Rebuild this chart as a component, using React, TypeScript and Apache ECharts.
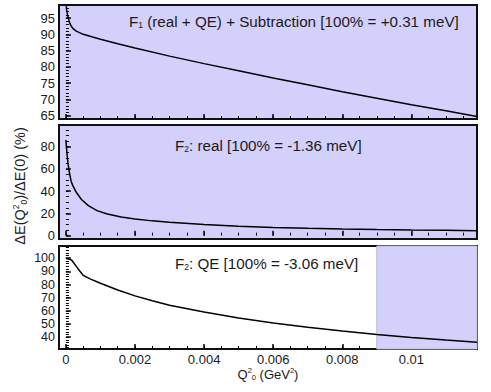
import React, { useEffect, useRef } from 'react';
import * as echarts from 'echarts';

// Q^2_0 (GeV^2) and ratio (%) for each panel
const qF1 = [0, 0.00002, 0.00005, 0.0001, 0.00015, 0.0002, 0.0003, 0.0005, 0.0007, 0.001, 0.0015, 0.002, 0.003, 0.004, 0.005, 0.006, 0.007, 0.008, 0.009, 0.01, 0.011, 0.0119];
const vF1 = [100, 97.5, 95.8, 93.8, 92.6, 91.8, 91.0, 90.0, 89.4, 88.5, 87.1, 85.8, 83.3, 81.0, 78.8, 76.6, 74.5, 72.4, 70.4, 68.4, 66.5, 64.8];

const qF2 = [0, 0.00003, 0.00006, 0.0001, 0.00015, 0.0002, 0.0003, 0.00045, 0.00065, 0.0009, 0.0012, 0.0016, 0.002, 0.0025, 0.003, 0.004, 0.005, 0.006, 0.007, 0.008, 0.009, 0.01, 0.011, 0.0119];
const vF2 = [86, 74, 65, 57, 49, 45, 39, 32.5, 27, 22.5, 19.5, 16.8, 15, 13.3, 12, 10, 8.4, 7.4, 6.6, 6, 5.5, 5.1, 4.8, 4.5];

const qF3 = [0, 0.0001, 0.00017, 0.0003, 0.0004, 0.0005, 0.0007, 0.001, 0.0015, 0.002, 0.0025, 0.003, 0.004, 0.005, 0.006, 0.007, 0.008, 0.009, 0.01, 0.011, 0.0119];
const vF3 = [100, 99.3, 98.5, 93.8, 90.3, 87, 84.3, 81, 75.8, 71.4, 67.7, 64.3, 59.2, 54.6, 50.8, 47.5, 44.6, 42.1, 39.8, 37.8, 36.2];

const shadeF3 = [0.009, 0.0119];

const xTicks = [0, 0.002, 0.004, 0.006, 0.008, 0.01];
const yTicks1 = [65, 70, 75, 80, 85, 90, 95];
const yTicks2 = [0, 20, 40, 60, 80];
const yTicks3 = [40, 50, 60, 70, 80, 90, 100];

const xRange = [-0.0002, 0.0119];
const yRange1 = [64, 99];
const yRange2 = [-3, 99.5];
const yRange3 = [31, 109.3];

const labels = [
  '{m|F}{s|1}{m| (real + QE) + Subtraction [100% = +0.31 meV]}',
  '{m|F}{s|2}{m|: real [100% = -1.36 meV]}',
  '{m|F}{s|2}{m|: QE [100% = -3.06 meV]}',
];
const yTitle = '{m|ΔE(Q}{p|2}{s|0}{m|)/ΔE(0) (%)}';
const xTitle = '{m|Q}{p|2}{s|0}{m| (GeV}{p|2}{m|)}';

function steps(a: number, b: number, d: number) {
  const out: number[] = [];
  for (let v = a; v <= b + d * 1e-6; v += d) out.push(Math.round(v / d) * d);
  return out;
}

const FONT = '"Liberation Sans", Arial, Helvetica, sans-serif';
const SHADE = '#d4d0fc';
const TXT = '#1a1a1a';

export default function App() {
  const ref = useRef<HTMLDivElement>(null);
  useEffect(() => {
    if (!ref.current) return;
    const chart = echarts.init(ref.current, undefined, { renderer: 'svg' });
    const grids = [
      { top: 5, height: 114 },
      { top: 125, height: 114 },
      { top: 246, height: 103 },
    ];
    const yRanges = [yRange1, yRange2, yRange3];
    const yMaj = [yTicks1, yTicks2, yTicks3];
    const yMin = [steps(64, 99, 1), steps(0, 95, 5), steps(32, 108, 2)];
    const yFont = [13, 13, 12.5];
    const xMinor = steps(0, 0.0115, 0.0005);

    const xAxis: any[] = [];
    const yAxis: any[] = [];
    grids.forEach((_, i) => {
      xAxis.push({
        type: 'value', gridIndex: i, position: 'bottom', min: xRange[0], max: xRange[1],
        axisLine: { show: false }, splitLine: { show: false },
        axisTick: { show: true, inside: true, length: 5, lineStyle: { color: '#000', width: 1.5 }, customValues: xTicks },
        axisLabel: { show: i === 2, customValues: xTicks, color: TXT, fontSize: 13, fontFamily: FONT, margin: 4 },
      });
      xAxis.push({
        type: 'value', gridIndex: i, position: 'bottom', min: xRange[0], max: xRange[1],
        axisLine: { show: false }, splitLine: { show: false },
        axisTick: { show: true, inside: true, length: 3, lineStyle: { color: '#000', width: 1 }, customValues: xMinor },
        axisLabel: { show: false },
      });
      yAxis.push({
        type: 'value', gridIndex: i, position: 'left', min: yRanges[i][0], max: yRanges[i][1],
        axisLine: { show: false }, splitLine: { show: false },
        axisTick: { show: true, inside: true, length: 5, lineStyle: { color: '#000', width: 1.5 }, customValues: yMaj[i] },
        axisLabel: { show: true, customValues: yMaj[i], color: TXT, fontSize: yFont[i], lineHeight: 12, fontFamily: FONT, margin: 4 },
      });
      yAxis.push({
        type: 'value', gridIndex: i, position: 'left', min: yRanges[i][0], max: yRanges[i][1],
        axisLine: { show: false }, splitLine: { show: false },
        axisTick: { show: true, inside: true, length: 3, lineStyle: { color: '#000', width: 1 }, customValues: yMin[i] },
        axisLabel: { show: false },
      });
    });

    const mk = (q: number[], v: number[]) => q.map((x, k) => [x, v[k]]);
    const lineBase = {
      type: 'line', showSymbol: false, symbol: 'none', smooth: false,
      lineStyle: { color: '#000', width: 1.5 }, clip: true, z: 3,
    };

    const rich = {
      m: { fontSize: 15.2, fontFamily: FONT, fill: TXT, lineHeight: 17 },
      s: { fontSize: 8.5, fontFamily: FONT, fill: TXT, lineHeight: 17, verticalAlign: 'bottom' },
      p: { fontSize: 8.5, fontFamily: FONT, fill: TXT, lineHeight: 17, verticalAlign: 'top' },
    };
    const rich2 = {
      m: { fontSize: 13, fontFamily: FONT, fill: TXT, lineHeight: 15 },
      s: { fontSize: 7.5, fontFamily: FONT, fill: TXT, lineHeight: 15, verticalAlign: 'bottom' },
      p: { fontSize: 7.5, fontFamily: FONT, fill: TXT, lineHeight: 15, verticalAlign: 'top' },
    };

    chart.setOption({
      animation: false,
      backgroundColor: '#fff',
      grid: grids.map((g, i) => ({
        left: 59, width: 418, top: g.top, height: g.height, show: true,
        backgroundColor: i < 2 ? SHADE : '#fff', borderColor: '#111', borderWidth: 2,
      })),
      xAxis,
      yAxis,
      series: [
        { ...lineBase, xAxisIndex: 0, yAxisIndex: 0, data: mk(qF1, vF1) },
        { ...lineBase, xAxisIndex: 2, yAxisIndex: 2, data: mk(qF2, vF2) },
        {
          ...lineBase, xAxisIndex: 4, yAxisIndex: 4, data: mk(qF3, vF3),
          markArea: {
            silent: true, z: 1,
            itemStyle: { color: SHADE, borderColor: '#b9b6d6', borderWidth: 1 },
            data: [[{ xAxis: shadeF3[0] }, { xAxis: shadeF3[1] }]],
          },
        },
      ],
      graphic: [
        { type: 'text', x: 129, y: 21, z: 10, style: { text: labels[0], rich, verticalAlign: 'middle', textVerticalAlign: 'middle' } },
        { type: 'text', x: 175, y: 145, z: 10, style: { text: labels[1], rich, verticalAlign: 'middle', textVerticalAlign: 'middle' } },
        { type: 'text', x: 175, y: 263, z: 10, style: { text: labels[2], rich, verticalAlign: 'middle', textVerticalAlign: 'middle' } },
        { type: 'text', x: 20, y: 186, rotation: Math.PI / 2, z: 10, style: { text: yTitle, rich: { ...rich, m: { ...rich.m, fontSize: 14.5 } }, align: 'center', textAlign: 'center', verticalAlign: 'middle', textVerticalAlign: 'middle' } },
        { type: 'text', x: 268, y: 374, z: 10, style: { text: xTitle, rich: rich2, align: 'center', textAlign: 'center', verticalAlign: 'middle', textVerticalAlign: 'middle' } },
      ],
    });
    return () => chart.dispose();
  }, []);
  return <div ref={ref} style={{ width: 491, height: 392, position: 'absolute', left: 0, top: 0 }} />;
}
